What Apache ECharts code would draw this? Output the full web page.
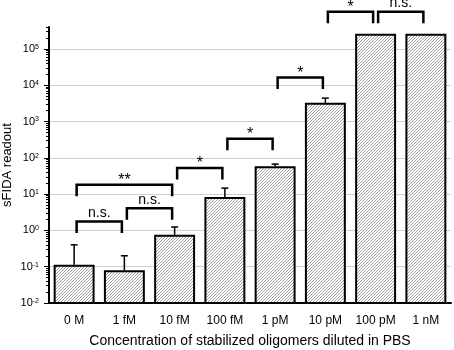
<!DOCTYPE html>
<html>
<head>
<meta charset="utf-8">
<script src="https://cdn.jsdelivr.net/npm/echarts@6/dist/echarts.min.js"></script>
<style>
  html, body { margin: 0; padding: 0; background: #fff; }
  #chart { width: 454px; height: 350px; }
</style>
</head>
<body>
<div id="chart"></div>
<script>
// data
var categories = ['0 M', '1 fM', '10 fM', '100 fM', '1 pM', '10 pM', '100 pM', '1 nM'];
var readout = [0.106, 0.075, 0.71, 7.8, 55, 3060, 243000, 243000];
var errorTop = [0.40, 0.20, 1.24, 14.6, 67, 4400, null, null];

// significance brackets: from category, to category, level, text
var bracketFrom = [0, 1, 0, 2, 3, 4, 5, 6];
var bracketTo = [1, 2, 2, 3, 4, 5, 6, 7];
var bracketLevel = [1.76, 4.1, 18, 52, 333, 16200, 1.06e6, 1.06e6];
var bracketText = ['n.s.', 'n.s.', '**', '*', '*', '*', '*', 'n.s.'];

// y axis
var yMin = 0.01;
var yMax = 4e5;
var yTickValues = [1e-2, 1e-1, 1e0, 1e1, 1e2, 1e3, 1e4, 1e5];
var yMinorTicks = [];
for (var d = -2; d <= 5; d++) {
    for (var m = 2; m <= 9; m++) {
        var t = m * Math.pow(10, d);
        if (t <= yMax) yMinorTicks.push(t);
    }
}

var font = '"Liberation Sans", Arial, sans-serif';

// hatch pattern for the bars (3px diagonal)
var hatch = document.createElement('canvas');
hatch.width = 3;
hatch.height = 3;
(function() {
    var ctx = hatch.getContext('2d');
    ctx.fillStyle = '#fff';
    ctx.fillRect(0, 0, 3, 3);
    ctx.fillStyle = '#a0a0a0';
    ctx.fillRect(0, 2, 1, 1);
    ctx.fillRect(1, 1, 1, 1);
    ctx.fillRect(2, 0, 1, 1);
})();

var barData = readout.map(function(v, i) { return [i, v]; });
var errData = [];
errorTop.forEach(function(e, i) {
    if (e != null) errData.push([i, readout[i], e]);
});
var bracketData = bracketLevel.map(function(lv, i) {
    return [bracketFrom[i], bracketTo[i], lv, bracketText[i]];
});

var myChart = echarts.init(document.getElementById('chart'));

var option = {
    animation: false,
    textStyle: { fontFamily: font, color: '#000' },
    grid: { left: 49, right: 3, top: 27, bottom: 47, outerBoundsMode: 'none' },
    xAxis: {
        type: 'category',
        data: categories,
        name: 'Concentration of stabilized oligomers diluted in PBS',
        nameLocation: 'middle',
        nameGap: 31,
        nameMoveOverlap: false,
        nameTextStyle: { fontSize: 14, color: '#000', fontFamily: font },
        axisLine: { onZero: false, lineStyle: { color: '#000', width: 2 } },
        axisTick: { alignWithLabel: true, length: 5, lineStyle: { color: '#000', width: 1.5 } },
        axisLabel: { interval: 0, fontSize: 12, color: '#000', margin: 12, fontFamily: font },
        splitLine: { show: false }
    },
    yAxis: [{
        type: 'log',
        logBase: 10,
        min: yMin,
        max: yMax,
        name: 'sFIDA readout',
        nameLocation: 'middle',
        nameGap: 35,
        nameMoveOverlap: false,
        nameTextStyle: { fontSize: 13, color: '#000', fontFamily: font },
        axisLine: { show: true, lineStyle: { color: '#000', width: 2 } },
        axisTick: { show: true, length: 5, customValues: yTickValues, lineStyle: { color: '#000', width: 1 } },
        axisLabel: {
            customValues: yTickValues,
            margin: 10,
            formatter: function(v) {
                return '{b|10}{s|' + Math.round(Math.log10(v)) + '}';
            },
            rich: {
                b: { fontSize: 11, color: '#000', fontFamily: font },
                s: { fontSize: 7, color: '#000', fontFamily: font, verticalAlign: 'top' }
            }
        },
        splitLine: { show: true, lineStyle: { color: '#cfcfcf', width: 1 } }
    }, {
        type: 'log',
        logBase: 10,
        min: yMin,
        max: yMax,
        position: 'left',
        axisLine: { show: false },
        axisTick: { show: true, length: 3, customValues: yMinorTicks, lineStyle: { color: '#000', width: 1 } },
        axisLabel: { show: false },
        splitLine: { show: false }
    }],
    series: [{
        // bars from the bottom of the log axis
        type: 'custom',
        data: barData,
        encode: { x: 0, y: 1 },
        renderItem: function(params, api) {
            var i = api.value(0);
            var top = api.coord([i, api.value(1)]);
            var base = api.coord([i, yMin]);
            var step = api.coord([1, yMin])[0] - api.coord([0, yMin])[0];
            var w = step * 0.775;
            return {
                type: 'rect',
                shape: { x: top[0] - w / 2, y: top[1], width: w, height: base[1] - top[1] },
                style: { fill: { image: hatch, repeat: 'repeat' }, stroke: '#000', lineWidth: 2 }
            };
        }
    }, {
        // upper error bars
        type: 'custom',
        data: errData,
        encode: { x: 0, y: [1, 2] },
        renderItem: function(params, api) {
            var i = api.value(0);
            var p0 = api.coord([i, api.value(1)]);
            var p1 = api.coord([i, api.value(2)]);
            var cap = 3.5;
            return {
                type: 'group',
                children: [{
                    type: 'line',
                    shape: { x1: p0[0], y1: p0[1] - 1, x2: p1[0], y2: p1[1] },
                    style: { stroke: '#000', lineWidth: 1.5 }
                }, {
                    type: 'line',
                    shape: { x1: p1[0] - cap, y1: p1[1], x2: p1[0] + cap, y2: p1[1] },
                    style: { stroke: '#000', lineWidth: 1.5 }
                }]
            };
        }
    }, {
        // significance brackets
        type: 'custom',
        data: bracketData,
        encode: { x: [0, 1], y: 2 },
        renderItem: function(params, api) {
            var a = api.coord([api.value(0), api.value(2)]);
            var b = api.coord([api.value(1), api.value(2)]);
            var inset = 2.5;
            var leg = 11.5;
            var x1 = a[0] + inset;
            var x2 = b[0] - inset;
            var y = a[1];
            var label = bracketText[params.dataIndex];
            var stars = label.indexOf('*') >= 0;
            return {
                type: 'group',
                children: [{
                    type: 'polyline',
                    shape: { points: [[x1, y + leg], [x1, y], [x2, y], [x2, y + leg]] },
                    style: { stroke: '#000', lineWidth: 2.5, fill: null, lineJoin: 'miter' }
                }, {
                    type: 'text',
                    x: (x1 + x2) / 2,
                    y: stars ? y + 4 : y - 1,
                    style: {
                        text: label,
                        fill: '#000',
                        font: (stars ? '16px ' : '14px ') + font,
                        align: 'center',
                        verticalAlign: 'bottom'
                    }
                }]
            };
        }
    }]
};

myChart.setOption(option);
</script>
</body>
</html>
